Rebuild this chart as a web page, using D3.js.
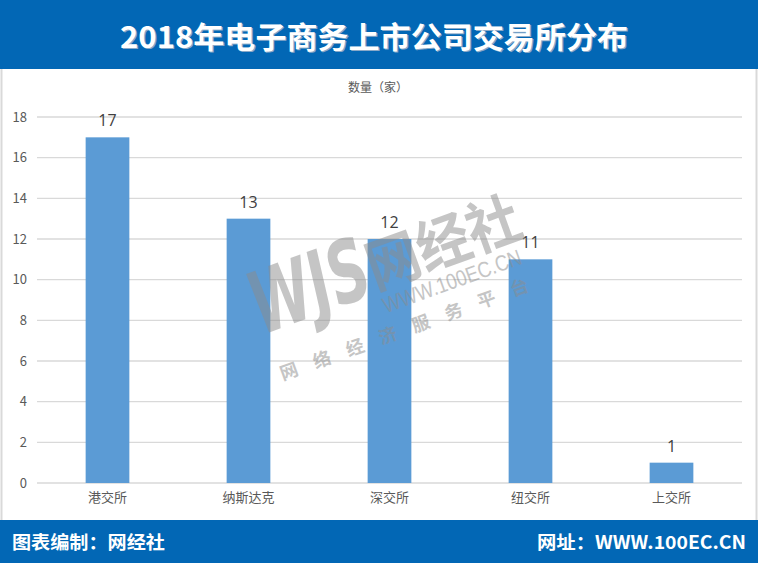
<!DOCTYPE html>
<html><head><meta charset="utf-8">
<script src="https://cdn.jsdelivr.net/npm/d3@7"></script>
<style>body{margin:0;background:#fff}svg{display:block}</style>
</head><body>
<script>
const title = "2018年电子商务上市公司交易所分布";
const yAxisTitle = "数量（家）";
const categories = ["港交所","纳斯达克","深交所","纽交所","上交所"];
const values = [17,13,12,11,1];
const yTicks = [0,2,4,6,8,10,12,14,16,18];
const footerLeft = "图表编制：网经社";
const footerRight = "网址：WWW.100EC.CN";

const W = 758, H = 563;
const svg = d3.select("body").append("svg").attr("width", W).attr("height", H);
const cjk = "'Noto Sans CJK SC','Microsoft YaHei',sans-serif";

// panel
svg.append("rect").attr("x",1.5).attr("y",60).attr("width",W-3).attr("height",470)
  .attr("fill","#fff").attr("stroke","#d9d9d9").attr("stroke-width",2);
// header
svg.append("rect").attr("x",0).attr("y",0).attr("width",W).attr("height",69).attr("fill","#0267b5");
svg.append("text").attr("x",120).attr("y",48)
  .attr("fill","#8aa9c8").attr("font-family",cjk).attr("font-weight","bold").attr("font-size",30)
  .attr("textLength",508).attr("lengthAdjust","spacingAndGlyphs")
  .attr("transform","translate(1.2,1.2)").text(title);
svg.append("text").attr("x",120).attr("y",48)
  .attr("fill","#fff").attr("font-family",cjk).attr("font-weight","bold").attr("font-size",30)
  .attr("textLength",508).attr("lengthAdjust","spacingAndGlyphs").text(title);
// footer
svg.append("rect").attr("x",0).attr("y",520).attr("width",W).attr("height",43).attr("fill","#0267b5");
svg.append("text").attr("x",12).attr("y",549).attr("fill","#fff").attr("font-family",cjk)
  .attr("font-weight","bold").attr("font-size",18).attr("textLength",153).attr("lengthAdjust","spacingAndGlyphs").text(footerLeft);
svg.append("text").attr("x",537).attr("y",549).attr("fill","#fff").attr("font-family",cjk)
  .attr("font-weight","bold").attr("font-size",18).attr("textLength",209).attr("lengthAdjust","spacingAndGlyphs").text(footerRight);

const x = d3.scaleBand().domain(categories).range([37,742]).paddingInner(0.69).paddingOuter(0.345);
const y = d3.scaleLinear().domain([0,18]).range([483,117]);

const g = svg.append("g");
// grid
g.selectAll(".grid").data(yTicks).join("line")
  .attr("x1",37).attr("x2",742).attr("y1",d=>y(d)).attr("y2",d=>y(d))
  .attr("stroke","#d9d9d9").attr("stroke-width",1.3);
// y axis ticks
const yAxis = d3.axisLeft(y).tickValues(yTicks).tickSize(0).tickPadding(0);
const ya = g.append("g").attr("transform","translate(27,0)").call(yAxis);
ya.select(".domain").remove();
ya.selectAll("text").attr("font-family",cjk).attr("font-size",13).attr("fill","#595959").attr("text-anchor","end");
// x axis
const xAxis = d3.axisBottom(x).tickSize(0).tickPadding(0);
const xa = g.append("g").attr("transform","translate(0,490)").call(xAxis);
xa.select(".domain").remove();
xa.selectAll("text").attr("font-family",cjk).attr("font-size",13).attr("fill","#595959").attr("dy","0.9em");

// axis title
svg.append("text").attr("x",378).attr("y",92).attr("text-anchor","middle").attr("font-family",cjk)
  .attr("font-size",12).attr("fill","#595959").text(yAxisTitle);

// bars
g.selectAll(".bar").data(values).join("rect")
  .attr("x",(d,i)=>x(categories[i])).attr("width",x.bandwidth())
  .attr("y",d=>y(d)).attr("height",d=>y(0)-y(d)).attr("fill","#5b9bd5");
g.selectAll(".lbl").data(values).join("text")
  .attr("x",(d,i)=>x(categories[i])+x.bandwidth()/2).attr("y",d=>y(d)-11)
  .attr("text-anchor","middle").attr("font-family","'Open Sans','Noto Sans',sans-serif").attr("font-size",16)
  .attr("fill","#404040").text(d=>d);

// watermark
const wm = svg.append("g").attr("transform","translate(262,335) rotate(-20)").attr("fill","#8c8c8c").attr("opacity",0.5);
wm.append("text").attr("x",0).attr("y",0).attr("font-family","'DejaVu Sans',sans-serif").attr("font-style","italic")
  .attr("font-weight","bold").attr("font-size",86).attr("textLength",122).attr("lengthAdjust","spacingAndGlyphs").text("WJS");
wm.append("text").attr("x",122).attr("y",-4).attr("font-family",cjk).attr("font-weight","bold")
  .attr("font-size",58).attr("textLength",160).attr("lengthAdjust","spacingAndGlyphs").text("网经社");
wm.append("text").attr("x",124).attr("y",22).attr("font-family","'Liberation Sans',sans-serif")
  .attr("font-size",22).attr("textLength",146).attr("lengthAdjust","spacingAndGlyphs").text("WWW.100EC.CN");
wm.append("text").attr("x",4).attr("y",50).attr("font-family",cjk).attr("font-weight","bold")
  .attr("font-size",18).attr("letter-spacing",17).text("网络经济服务平台");
</script>
</body></html>
